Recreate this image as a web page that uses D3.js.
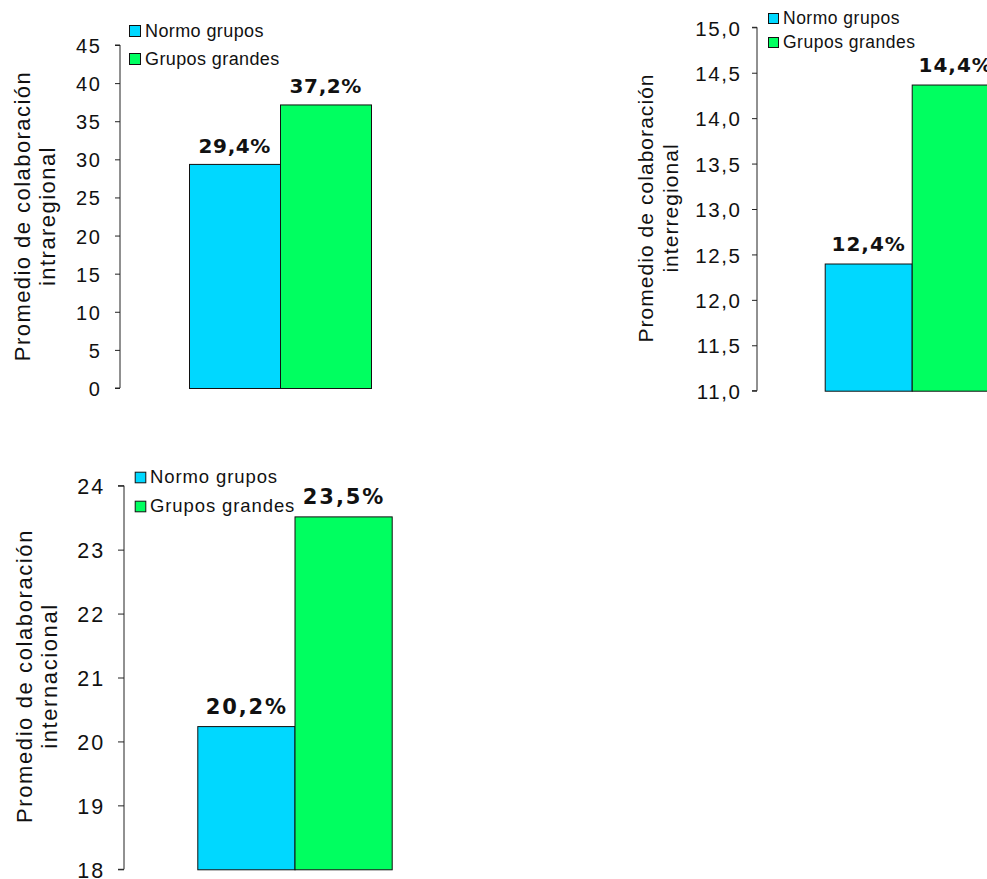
<!DOCTYPE html>
<html><head><meta charset="utf-8">
<script src="https://cdn.jsdelivr.net/npm/d3@7"></script>
<style>body{margin:0;background:#fff;overflow:hidden} svg{display:block}</style>
</head><body>
<script>
// ---- data ----
const seriesNames = ["Normo grupos", "Grupos grandes"];
const intraregionalValues = [29.4, 37.2];
const interregionalValues = [12.4, 14.37];
const internacionalValues = [20.24, 23.52];
const intraregionalTicks = [0, 5, 10, 15, 20, 25, 30, 35, 40, 45];
const interregionalTicks = [11.0, 11.5, 12.0, 12.5, 13.0, 13.5, 14.0, 14.5, 15.0];
const internacionalTicks = [18, 19, 20, 21, 22, 23, 24];
const titleLine1 = "Promedio de colaboración";
const titleLine2 = ["intraregional", "interregional", "internacional"];

// ---- styles ----
const seriesColors = ["#00d8ff", "#00ff60"];
const FONT = "'Liberation Sans', Arial, sans-serif";
const BOLD = "'DejaVu Sans', Verdana, sans-serif";
const commaFmt = f => v => d3.format(f)(v).replace(".", ",");

const panels = [
  { values: intraregionalValues, ticks: intraregionalTicks, title2: titleLine2[0], tickFmt: commaFmt("d"),
    axisX: 120, yTop: 45, yBottom: 388, barL: 189, barR: 371, tickLen: 5, tickRight: 100, tickFont: 20, tickLS: 1.8,
    titleBase: [30, 55], titleY: 216, titleFont: 22, titleLS: 1.45,
    legX: 129, legY: 25, legStep: 28, legSize: 11, legTextX: 145, legFont: 18, legLS: 0.4,
    labelFont: 20, labelLS: 0.6, labelOff: 11 },
  { values: interregionalValues, ticks: interregionalTicks, title2: titleLine2[1], tickFmt: commaFmt(".1f"),
    axisX: 757, yTop: 27.3, yBottom: 390.7, barL: 824.7, barR: 998.7, tickLen: 5, tickRight: 740, tickFont: 20.5, tickLS: 1.6,
    titleBase: [653, 678], titleY: 208, titleFont: 21, titleLS: 1.05,
    legX: 768, legY: 13, legStep: 24, legSize: 10, legTextX: 783, legFont: 17.5, legLS: 0.5,
    labelFont: 20, labelLS: 1.0, labelOff: 13 },
  { values: internacionalValues, ticks: internacionalTicks, title2: titleLine2[2], tickFmt: commaFmt("d"),
    axisX: 124, yTop: 485.7, yBottom: 869.3, barL: 197.3, barR: 391.7, tickLen: 6, tickRight: 103.3, tickFont: 21.5, tickLS: 2.2,
    titleBase: [31.5, 57], titleY: 676, titleFont: 22, titleLS: 1.6,
    legX: 134.7, legY: 471.7, legStep: 29, legSize: 10.6, legTextX: 150, legFont: 18.5, legLS: 0.9,
    labelFont: 21, labelLS: 1.9, labelOff: 12 }
];

const svg = d3.select("body").append("svg").attr("width", 987).attr("height", 879);

panels.forEach(p => {
  const g = svg.append("g");
  const y = d3.scaleLinear().domain(d3.extent(p.ticks)).range([p.yBottom, p.yTop]);
  const x = d3.scaleBand().domain(seriesNames).range([p.barL, p.barR]).padding(0);

  // axis line + ticks
  const axis = d3.axisLeft(y).tickValues(p.ticks).tickSize(p.tickLen).tickFormat("");
  const ag = g.append("g").attr("transform", `translate(${p.axisX},0)`).call(axis);
  ag.select(".domain").attr("stroke", "#222").attr("d", `M${-p.tickLen},${p.yTop}H0V${p.yBottom}H${-p.tickLen}`);
  ag.selectAll(".tick line").attr("stroke", "#222");

  // tick labels
  g.selectAll(".tl").data(p.ticks).join("text")
    .attr("x", p.tickRight + p.tickLS).attr("y", d => y(d)).attr("dy", "0.4em")
    .attr("text-anchor", "end").attr("font-family", FONT).attr("font-size", p.tickFont)
    .attr("letter-spacing", p.tickLS).attr("fill", "#111").text(p.tickFmt);

  // bars
  g.selectAll(".bar").data(p.values).join("rect")
    .attr("x", (d, i) => x(seriesNames[i]) + 0.5).attr("width", x.bandwidth())
    .attr("y", d => y(d) + 0.5).attr("height", d => p.yBottom - y(d))
    .attr("fill", (d, i) => seriesColors[i]).attr("stroke", "#111").attr("stroke-width", 1);

  // value labels
  g.selectAll(".vl").data(p.values).join("text")
    .attr("x", (d, i) => x(seriesNames[i]) + x.bandwidth() / 2 + p.labelLS / 2)
    .attr("y", d => y(d) - p.labelOff)
    .attr("text-anchor", "middle").attr("font-family", BOLD).attr("font-weight", "bold")
    .attr("font-size", p.labelFont).attr("letter-spacing", p.labelLS).attr("fill", "#111")
    .text(d => d3.format(".1f")(d).replace(".", ",") + "%");

  // y title
  [titleLine1, p.title2].forEach((t, i) => {
    g.append("text")
      .attr("transform", `translate(${p.titleBase[i]},${p.titleY}) rotate(-90)`)
      .attr("text-anchor", "middle").attr("font-family", FONT).attr("font-size", p.titleFont)
      .attr("letter-spacing", p.titleLS).attr("fill", "#111").text(t);
  });

  // legend
  const lg = g.selectAll(".leg").data(seriesNames).join("g")
    .attr("transform", (d, i) => `translate(0,${p.legY + i * p.legStep})`);
  lg.append("rect").attr("x", p.legX + 0.5).attr("y", 0.5).attr("width", p.legSize).attr("height", p.legSize)
    .attr("fill", (d, i) => seriesColors[i]).attr("stroke", "#111");
  lg.append("text").attr("x", p.legTextX).attr("y", p.legSize + 0.5)
    .attr("font-family", FONT).attr("font-size", p.legFont).attr("letter-spacing", p.legLS)
    .attr("fill", "#111").text(d => d);
});
</script>
</body></html>
